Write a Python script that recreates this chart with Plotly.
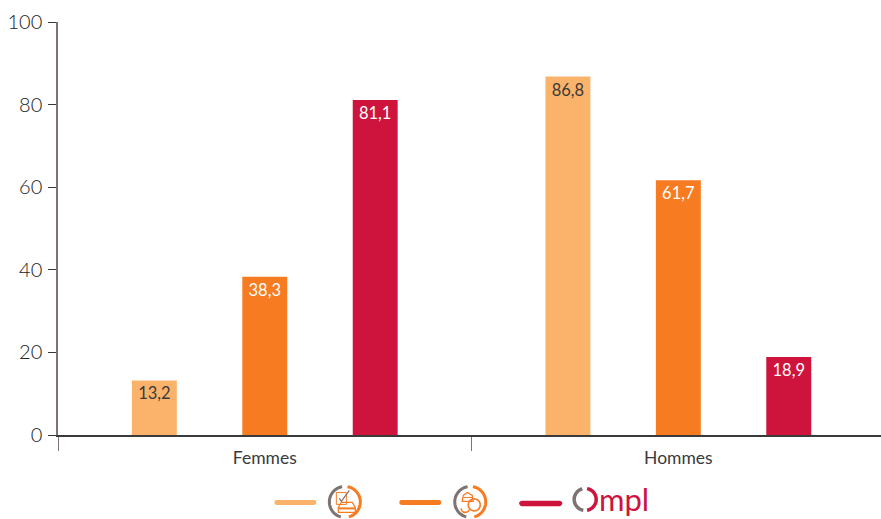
import math
import plotly.graph_objects as go

categories = ["Femmes", "Hommes"]
series_a = [13.2, 86.8]
series_b = [38.3, 61.7]
series_c = [81.1, 18.9]
y_ticks = [0, 20, 40, 60, 80, 100]
colors = ["#FBB36B", "#F77B21", "#CE133D"]
text_colors = ["#3A3A3A", "#FFFFFF", "#FFFFFF"]
FONT = "Lato, 'Open Sans', sans-serif"
W, H = 881, 519
L, T, B = 57.5, 22, 435.5

fig = go.Figure()
for vals, col, tc, nm in zip([series_a, series_b, series_c], colors, text_colors, ["A", "B", "Ompl"]):
    fig.add_trace(go.Bar(
        x=categories, y=vals, name=nm, marker=dict(color=col, line=dict(width=0)),
        text=[f"{v:.1f}".replace(".", ",") for v in vals],
        textposition="inside", insidetextanchor="end", textangle=0,
        constraintext="none", cliponaxis=False,
        textfont=dict(family=FONT, size=16.5, color=tc, weight=400),
    ))

def px(x): return (x - L) / (W - L)
def py(y): return 1 - (y - T) / (B - T)

def path(points, color, width, fill=None, close=False):
    d = "M " + " L ".join(f"{px(x):.5f},{py(y):.5f}" for x, y in points) + (" Z" if close else "")
    s = dict(type="path", xref="paper", yref="paper", path=d, layer="above",
             line=dict(color=color, width=width))
    if fill:
        s["fillcolor"] = fill
    return s

def arc_pts(cx, cy, r, a0, a1, n=28):
    return [(cx + r * math.cos(math.radians(a0 + (a1 - a0) * i / n)),
             cy - r * math.sin(math.radians(a0 + (a1 - a0) * i / n))) for i in range(n + 1)]

def arc(cx, cy, r, a0, a1, color, width):
    return path(arc_pts(cx, cy, r, a0, a1), color, width)

def pill(x0, x1, y, h, color):
    pts = arc_pts(x1 - h / 2, y, h / 2, 90, -90, 8) + arc_pts(x0 + h / 2, y, h / 2, 270, 90, 8)
    return path(pts, color, 0, fill=color, close=True)

GRAY = "#7D7370"
shapes = []
# legend keys
shapes.append(pill(274, 316, 503, 5, colors[0]))
shapes.append(pill(399, 441, 503, 5, colors[1]))
shapes.append(pill(519, 562, 504, 5.5, colors[2]))
# icon rings
for cx in (344.5, 470):
    shapes.append(arc(cx, 502.5, 15.5, 100, 255, GRAY, 3))
    shapes.append(arc(cx, 502.5, 15.5, 80, -75, colors[1], 3))
# first icon: form + car
shapes.append(path([(336, 493), (346, 493), (346, 505), (336, 505)], colors[1], 1, close=True))
shapes.append(path([(339, 499), (341, 502), (349, 491)], GRAY, 1.2))
shapes.append(path([(338, 513), (338, 508), (341, 503), (352, 503), (355, 508), (355, 513)], colors[1], 1.2, close=True))
shapes.append(path([(338, 509), (355, 509)], colors[1], 2))
# second icon: helmet + tyre
shapes.append(path([(462, 502), (463, 496), (467, 493), (472, 496), (473, 502)], colors[1], 1.2, close=True))
shapes.append(path([(463, 498), (472, 498)], colors[1], 1))
shapes.append(path(arc_pts(474, 505.5, 6, 0, 360), colors[1], 1.6))
shapes.append(path(arc_pts(465, 509, 4, 180, 340), colors[1], 1.6))
# Ompl logo ring
shapes.append(arc(585, 500, 11, 105, 260, GRAY, 3.5))
shapes.append(arc(585, 500, 11, 80, -80, colors[2], 3.5))

annotations = [dict(text="mpl", xref="paper", yref="paper", x=px(597), y=py(500), xanchor="left", yanchor="middle",
                    showarrow=False, font=dict(family=FONT, size=31, color=colors[2], weight=400))]

fig.update_layout(
    width=W, height=H, autosize=False, showlegend=False,
    margin=dict(l=L, r=0, t=T, b=H - B),
    paper_bgcolor="white", plot_bgcolor="white",
    barmode="group", bargap=0.199, bargroupgap=0.593,
    separators=", ",
    font=dict(family=FONT, color="#3A3A3A"),
    shapes=shapes, annotations=annotations,
    xaxis=dict(type="category", range=[-0.5, 1.49], tickson="boundaries", ticks="outside", ticklen=14, tickwidth=1,
               tickcolor=GRAY, showline=True, linecolor="#3A3A3A", linewidth=1.5, ticklabelstandoff=6,
               tickfont=dict(family=FONT, size=17.5, color="#3A3A3A", weight=400), showgrid=False, zeroline=False),
    yaxis=dict(range=[0, 100], tickvals=y_ticks, ticks="outside", ticklen=8, tickwidth=1, tickcolor="#3A3A3A",
               showline=True, linecolor=GRAY, linewidth=1.5, showgrid=False, zeroline=False, ticklabelstandoff=2,
               tickfont=dict(family=FONT, size=20, color="#222222", weight=300)),
)
fig.write_html("out.html", config=dict(displayModeBar=False), post_script="document.body.style.margin='0';")
